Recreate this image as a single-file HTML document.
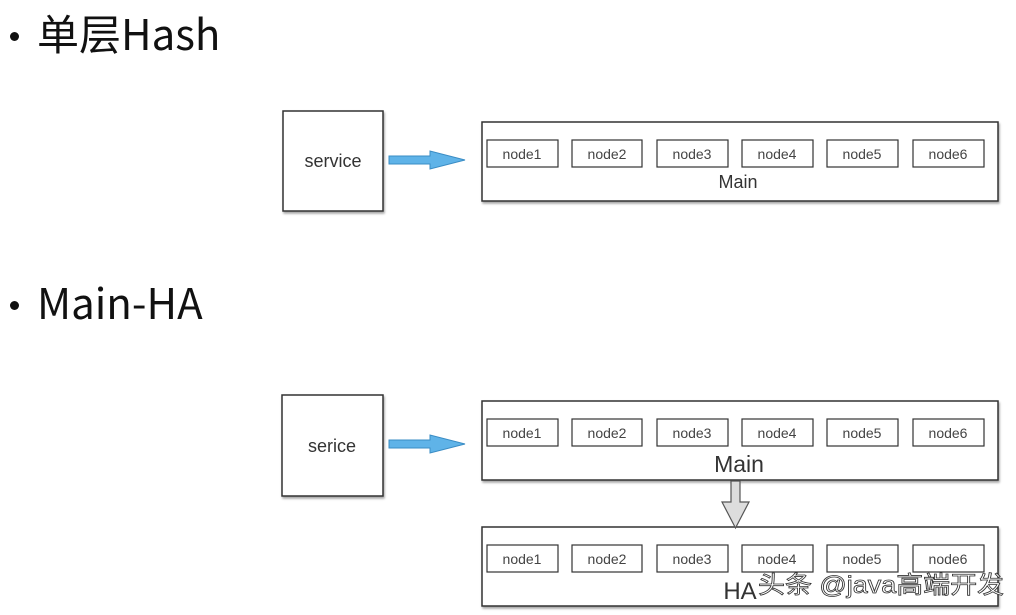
<!DOCTYPE html>
<html><head><meta charset="utf-8"><style>
html,body{margin:0;padding:0;background:#fff;}
body{width:1016px;height:615px;overflow:hidden;position:relative;}
.t{position:absolute;font-family:"Noto Sans CJK SC",sans-serif;color:#111;font-size:42px;line-height:1;}
.b{position:absolute;width:9px;height:9px;border-radius:50%;background:#111;}
</style></head><body>
<div class="b" style="left:10px;top:32px"></div>
<div class="t" style="left:37px;top:12px">单层Hash</div>
<div class="b" style="left:10px;top:301px"></div>
<div class="t" style="left:37px;top:281px">Main-HA</div>
<svg width="1016" height="615" style="position:absolute;left:0;top:0" font-family="Liberation Sans, Arial, sans-serif">
<defs><filter id="s" x="-5%" y="-5%" width="110%" height="120%"><feDropShadow dx="1" dy="2" stdDeviation="1" flood-color="#000" flood-opacity="0.35"/></filter></defs>
<g fill="#fff" stroke="#333" stroke-width="1.5" filter="url(#s)">
<rect x="283" y="111" width="100" height="100"/>
<rect x="482" y="122" width="516" height="79"/>
<rect x="282" y="395" width="101" height="101"/>
<rect x="482" y="401" width="516" height="79"/>
<rect x="482" y="527" width="516" height="79"/>
</g>
<g fill="#333" font-size="18" text-anchor="middle">
<text x="333" y="167">service</text>
<text x="332" y="452">serice</text>
<text x="738" y="188">Main</text>
<text x="739" y="472" font-size="23">Main</text>
<text x="740" y="599" font-size="24">HA</text>
</g>
<g fill="none" stroke="#333" stroke-width="1.2">
<rect x="487" y="140" width="71" height="27"/><rect x="572" y="140" width="70" height="27"/><rect x="657" y="140" width="71" height="27"/><rect x="742" y="140" width="71" height="27"/><rect x="827" y="140" width="71" height="27"/><rect x="913" y="140" width="71" height="27"/>
<rect x="487" y="419" width="71" height="27"/><rect x="572" y="419" width="70" height="27"/><rect x="657" y="419" width="71" height="27"/><rect x="742" y="419" width="71" height="27"/><rect x="827" y="419" width="71" height="27"/><rect x="913" y="419" width="71" height="27"/>
<rect x="487" y="545" width="71" height="27"/><rect x="572" y="545" width="70" height="27"/><rect x="657" y="545" width="71" height="27"/><rect x="742" y="545" width="71" height="27"/><rect x="827" y="545" width="71" height="27"/><rect x="913" y="545" width="71" height="27"/>
</g>
<g fill="#444" font-size="14" text-anchor="middle">
<text x="522" y="159">node1</text><text x="607" y="159">node2</text><text x="692" y="159">node3</text><text x="777" y="159">node4</text><text x="862" y="159">node5</text><text x="948" y="159">node6</text>
<text x="522" y="438">node1</text><text x="607" y="438">node2</text><text x="692" y="438">node3</text><text x="777" y="438">node4</text><text x="862" y="438">node5</text><text x="948" y="438">node6</text>
<text x="522" y="564">node1</text><text x="607" y="564">node2</text><text x="692" y="564">node3</text><text x="777" y="564">node4</text><text x="862" y="564">node5</text><text x="948" y="564">node6</text>
</g>
<g fill="#5fb3e8" stroke="#3a8cc4" stroke-width="1">
<polygon points="389,156 430,156 430,151 465,160 430,169 430,164 389,164"/>
<polygon points="389,440 430,440 430,435 465,444 430,453 430,448 389,448"/>
</g>
<polygon points="731,481 740,481 740,502 749,502 735.5,528 722,502 731,502" fill="#ddd" stroke="#555" stroke-width="1.2"/>
<text x="758" y="593" font-size="24" textLength="246" lengthAdjust="spacingAndGlyphs" fill="#fff" stroke="#333" stroke-width="0.8" font-family="Liberation Sans, Noto Sans CJK SC, sans-serif">头条 @java高端开发</text>
</svg>
</body></html>
